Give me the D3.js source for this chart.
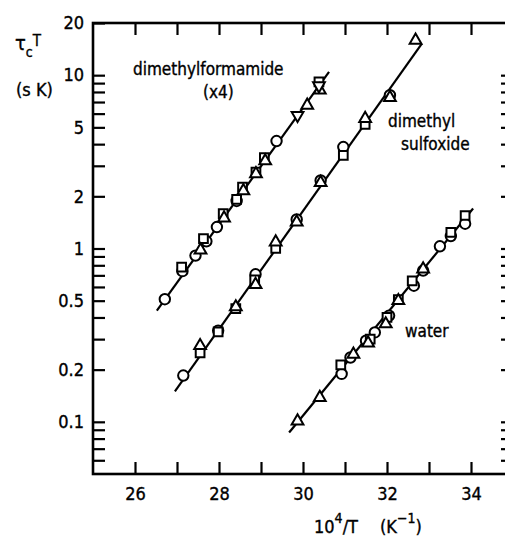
<!DOCTYPE html>
<html><head><meta charset="utf-8">
<script src="https://cdn.jsdelivr.net/npm/d3@7/dist/d3.min.js"></script>
<style>
html,body{margin:0;padding:0;background:#fff;}
svg text{font-family:"DejaVu Sans Condensed","DejaVu Sans",sans-serif;fill:#000;stroke:#000;stroke-width:0.35px;}
</style></head>
<body>
<svg id="c" width="505" height="539"></svg>
<script>
// ---- data ----
const xTicks = [26, 27, 28, 29, 30, 31, 32, 33, 34];
const xTickLabels = [26, 28, 30, 32, 34];
const yTicks = [0.06,0.07,0.08,0.09,0.1,0.2,0.3,0.4,0.5,0.6,0.7,0.8,0.9,1,2,3,4,5,6,7,8,9,10,20];
const yTickLabels = [0.1, 0.2, 0.5, 1, 2, 5, 10, 20];

// dimethylformamide (x4)
const dmfCircleX = [26.71, 27.13, 27.44, 27.70, 27.95, 28.42, 29.37];
const dmfCircleY = [0.51, 0.74, 0.91, 1.10, 1.33, 1.88, 4.17];
const dmfSquareX = [27.11, 27.63, 28.10, 28.42, 28.56, 28.88, 29.08, 30.38];
const dmfSquareY = [0.78, 1.14, 1.59, 1.92, 2.26, 2.76, 3.34, 9.15];
const dmfTriX = [27.56, 28.12, 28.58, 28.88, 29.10, 30.10, 30.40];
const dmfTriY = [0.98, 1.50, 2.15, 2.70, 3.20, 6.70, 8.20];
const dmfInvX = [29.87, 30.38];
const dmfInvY = [5.87, 8.70];
const dmfLineX = [26.52, 30.62];
const dmfLineY = [0.438, 10.45];

// dimethyl sulfoxide
const dmsoCircleX = [27.15, 27.98, 28.87, 29.85, 30.42, 30.96, 32.07];
const dmsoCircleY = [0.185, 0.336, 0.71, 1.47, 2.47, 3.85, 7.66];
const dmsoSquareX = [27.55, 27.98, 28.40, 28.85, 29.35, 30.96, 31.48];
const dmsoSquareY = [0.25, 0.33, 0.45, 0.66, 1.00, 3.45, 5.20];
const dmsoTriX = [27.55, 28.40, 28.87, 29.35, 29.85, 30.42, 31.48, 32.07, 32.68];
const dmsoTriY = [0.275, 0.46, 0.62, 1.09, 1.42, 2.40, 5.62, 7.43, 15.9];
const dmsoLineX = [26.95, 32.83];
const dmsoLineY = [0.150, 15.2];

// water
const waterCircleX = [30.92, 31.13, 31.50, 31.71, 32.05, 32.64, 32.86, 33.26, 33.52, 33.86];
const waterCircleY = [0.189, 0.235, 0.294, 0.328, 0.41, 0.61, 0.746, 1.03, 1.18, 1.39];
const waterSquareX = [30.90, 31.60, 32.00, 32.27, 32.60, 33.52, 33.86];
const waterSquareY = [0.213, 0.30, 0.40, 0.507, 0.65, 1.24, 1.55];
const waterTriX = [29.87, 30.40, 31.20, 31.55, 31.97, 32.27, 32.86];
const waterTriY = [0.101, 0.138, 0.245, 0.285, 0.367, 0.50, 0.76];
const waterLineX = [29.67, 34.05];
const waterLineY = [0.0867, 1.70];

// ---- drawing ----
const svg = d3.select("#c");
const L = 93, T = 23, R = 513, B = 474;
const x = d3.scaleLinear().domain([25, 35]).range([L, R]);
const y = d3.scaleLog().domain([0.05, 20]).range([B, T]);
const fmt = v => yTickLabels.includes(v) ? String(v) : "";

function styleAxis(g){
  g.select(".domain").remove();
  g.selectAll(".tick line").attr("stroke","#000").attr("stroke-width",2.2);
  g.selectAll(".tick text").attr("font-size",18).attr("font-family","DejaVu Sans Condensed").attr("fill","#000");
}
svg.append("g").attr("transform",`translate(${L},0)`)
  .call(d3.axisLeft(y).tickValues(yTicks).tickFormat(fmt).tickSize(-12).tickPadding(9))
  .call(styleAxis);
svg.append("g").attr("transform",`translate(${R},0)`)
  .call(d3.axisRight(y).tickValues(yTicks.filter(v=>v<20)).tickFormat("").tickSize(-12))
  .call(styleAxis);
svg.append("g").attr("transform",`translate(0,${B})`)
  .call(d3.axisBottom(x).tickValues(xTicks).tickFormat(v => xTickLabels.includes(v) ? String(v) : "").tickSize(-12).tickPadding(13))
  .call(styleAxis);
svg.append("g").attr("transform",`translate(0,${T})`)
  .call(d3.axisTop(x).tickValues(xTicks).tickFormat("").tickSize(-12))
  .call(styleAxis);

svg.append("rect").attr("x",L).attr("y",T).attr("width",R-L).attr("height",B-T)
  .attr("fill","none").attr("stroke","#000").attr("stroke-width",2.6);

// fit lines
const line = d3.line().x(d=>x(d[0])).y(d=>y(d[1]));
[[dmfLineX,dmfLineY],[dmsoLineX,dmsoLineY],[waterLineX,waterLineY]].forEach(([xs,ys])=>{
  svg.append("path").attr("d", line(d3.zip(xs,ys))).attr("fill","none")
    .attr("stroke","#000").attr("stroke-width",2.2);
});

function markers(xs, ys, type, size, rot){
  const sym = d3.symbol().type(type).size(size);
  svg.append("g").selectAll("path").data(d3.zip(xs,ys)).join("path")
    .attr("d", sym)
    .attr("transform", d=>`translate(${x(d[0])},${y(d[1])}) rotate(${rot})`)
    .attr("fill","#fff").attr("stroke","#000").attr("stroke-width",2);
}
const series = [
  [dmfCircleX,dmfCircleY,d3.symbolCircle,85,0],
  [dmsoCircleX,dmsoCircleY,d3.symbolCircle,85,0],
  [waterCircleX,waterCircleY,d3.symbolCircle,85,0],
  [dmfSquareX,dmfSquareY,d3.symbolSquare,76,0],
  [dmsoSquareX,dmsoSquareY,d3.symbolSquare,76,0],
  [waterSquareX,waterSquareY,d3.symbolSquare,76,0],
  [dmfTriX,dmfTriY,d3.symbolTriangle,60,0],
  [dmsoTriX,dmsoTriY,d3.symbolTriangle,60,0],
  [waterTriX,waterTriY,d3.symbolTriangle,60,0],
  [dmfInvX,dmfInvY,d3.symbolTriangle,60,180]
];
series.forEach(s=>markers(...s));

// labels
function label(txt, xx, yy, size){
  svg.append("text").attr("x",xx).attr("y",yy).attr("font-size",size||17).text(txt);
}
label("dimethylformamide", 133, 75);
label("(x4)", 203, 98);
label("dimethyl", 388, 127);
label("sulfoxide", 401, 150);
label("water", 405, 337);

// y axis title
const yt = svg.append("text").attr("x",15).attr("y",50).attr("font-size",20);
yt.append("tspan").text("τ");
yt.append("tspan").attr("dy",7).attr("font-size",14).text("c");
yt.append("tspan").attr("dy",-11).attr("font-size",15).text("T");
label("(s K)", 16, 96, 18);

// x axis title
const xt = svg.append("text").attr("x",314).attr("y",533).attr("font-size",18);
xt.append("tspan").text("10");
xt.append("tspan").attr("dy",-10).attr("font-size",14).text("4");
xt.append("tspan").attr("dy",10).text("/T");
xt.append("tspan").attr("dx",22).text("(K");
xt.append("tspan").attr("dy",-10).attr("font-size",14).text("−1");
xt.append("tspan").attr("dy",10).text(")");
</script>
</body></html>
